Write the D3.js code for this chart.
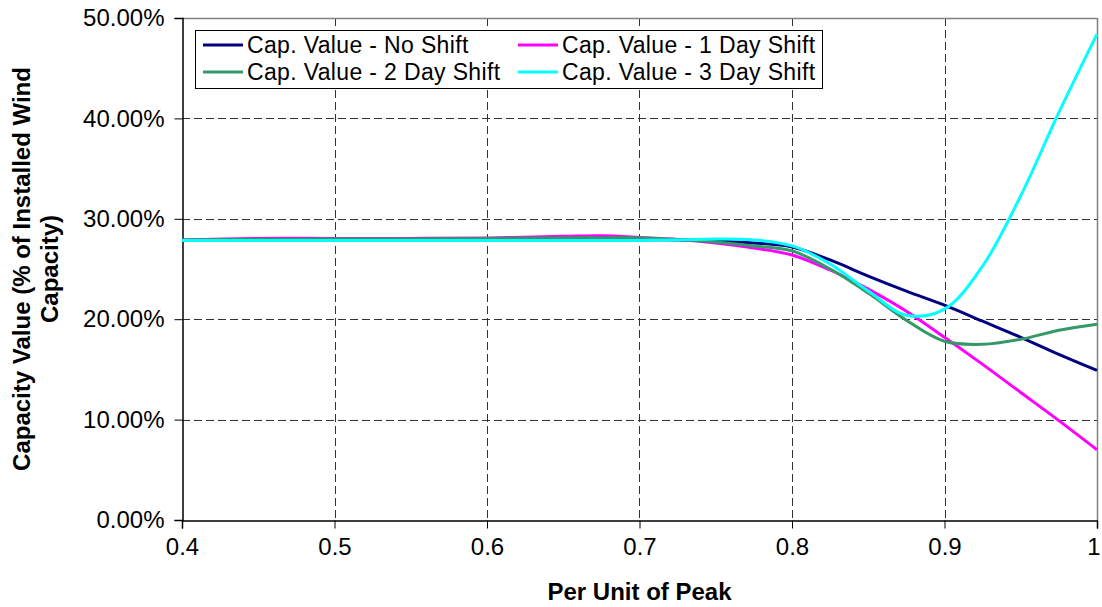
<!DOCTYPE html>
<html>
<head>
<meta charset="utf-8">
<script src="https://cdn.jsdelivr.net/npm/d3@7"></script>
<style>
  body { margin: 0; background: #fff; }
  svg { display: block; font-family: "Liberation Sans", Arial, sans-serif; }
</style>
</head>
<body>
<svg id="chart" width="1102" height="607"></svg>
<script>
const xValues = [0.4, 0.45, 0.5, 0.55, 0.6, 0.65, 0.675, 0.7, 0.725, 0.75, 0.775, 0.8, 0.825, 0.85, 0.875, 0.9, 0.925, 0.95, 0.975, 1.0];
const noShift  = [27.85, 27.9, 27.9, 27.9, 27.9, 27.9, 27.9, 27.9, 27.9, 27.8, 27.6, 27.2, 25.9, 24.3, 22.8, 21.4, 19.8, 18.2, 16.5, 14.9];
const oneDay   = [27.9, 28.05, 28.05, 28.05, 28.1, 28.25, 28.3, 28.15, 27.95, 27.6, 27.1, 26.4, 24.9, 23.0, 20.8, 18.2, 15.5, 12.7, 9.9, 7.0];
const twoDay   = [27.9, 27.95, 28.0, 28.0, 28.05, 28.1, 28.1, 28.1, 27.95, 27.7, 27.3, 26.8, 25.0, 22.6, 19.9, 17.8, 17.5, 18.0, 18.9, 19.5];
const threeDay = [27.85, 27.85, 27.85, 27.85, 27.85, 27.85, 27.85, 27.85, 27.9, 28.0, 27.9, 27.3, 25.5, 22.8, 20.4, 21.0, 25.3, 32.3, 40.6, 48.4];
const seriesNames = ["Cap. Value - No Shift", "Cap. Value - 1 Day Shift", "Cap. Value - 2 Day Shift", "Cap. Value - 3 Day Shift"];
const seriesColors = ["#000080", "#FF00FF", "#339966", "#00FFFF"];
const xTicks = [0.4, 0.5, 0.6, 0.7, 0.8, 0.9, 1.0];
const yTicks = [0, 10, 20, 30, 40, 50];
const xTitle = "Per Unit of Peak";
const yTitleLines = ["Capacity Value (% of Installed Wind", "Capacity)"];

const seriesData = [noShift, oneDay, twoDay, threeDay];

const svg = d3.select("#chart");
const pL = 182, pR = 1097, pT = 18, pB = 520;
const x = d3.scaleLinear().domain([0.4, 1.0]).range([pL, pR]);
const y = d3.scaleLinear().domain([0, 50]).range([pB, pT]);

const fs = 24;

// gridlines
const g = svg.append("g");
g.selectAll("line.hg").data(yTicks.filter(d => d > 0 && d < 50)).join("line")
  .attr("x1", pL).attr("x2", pR)
  .attr("y1", d => Math.round(y(d)) + 0.5).attr("y2", d => Math.round(y(d)) + 0.5)
  .attr("stroke", "#333").attr("stroke-width", 1).attr("stroke-dasharray", "8,4");
g.selectAll("line.vg").data(xTicks.filter(d => d > 0.4 && d < 1.0)).join("line")
  .attr("y1", pT).attr("y2", pB)
  .attr("x1", d => Math.round(x(d)) + 0.5).attr("x2", d => Math.round(x(d)) + 0.5)
  .attr("stroke", "#333").attr("stroke-width", 1).attr("stroke-dasharray", "8,4");

// plot border top/right
svg.append("line").attr("x1", pL).attr("x2", pR + 0.5).attr("y1", pT + 0.5).attr("y2", pT + 0.5).attr("stroke", "#808080").attr("stroke-width", 1.5);
svg.append("line").attr("x1", pR + 0.5).attr("x2", pR + 0.5).attr("y1", pT).attr("y2", pB).attr("stroke", "#808080").attr("stroke-width", 1.5);

// axes
const xAxis = d3.axisBottom(x).tickValues(xTicks).tickSize(8).tickPadding(9)
  .tickFormat(d => d === 1 ? "1" : d3.format(".1f")(d));
const xg = svg.append("g").attr("transform", `translate(0,${pB + 0.5})`).call(xAxis);
const yAxis = d3.axisLeft(y).tickValues(yTicks).tickSize(8).tickPadding(10)
  .tickFormat(d => d3.format(".2f")(d) + "%");
const yg = svg.append("g").attr("transform", `translate(${pL + 0.5},0)`).call(yAxis);
[xg, yg].forEach(a => {
  a.select(".domain").attr("stroke", "#000").attr("stroke-width", 1.5);
  a.selectAll(".tick line").attr("stroke", "#000");
  a.selectAll(".tick text").attr("font-size", fs).attr("fill", "#000").attr("font-family", "Liberation Sans, Arial, sans-serif");
});
// keep the last x label inside the picture, as in the reference
xg.selectAll(".tick text").filter(d => d === 1).attr("text-anchor", "end").attr("dx", 3);

// lines
const line = d3.line().x((d, i) => x(xValues[i])).y(d => y(d)).curve(d3.curveCatmullRom.alpha(0.5));
seriesData.forEach((s, i) => {
  svg.append("path").datum(s).attr("d", line)
    .attr("fill", "none").attr("stroke", seriesColors[i]).attr("stroke-width", 3)
    .attr("stroke-linejoin", "round");
});

// axis titles
svg.append("text").attr("x", (pL + pR) / 2).attr("y", 600)
  .attr("text-anchor", "middle").attr("font-size", fs).attr("font-weight", "bold").text(xTitle);
const yt = svg.append("text").attr("transform", `translate(0,${(pT + pB) / 2}) rotate(-90)`)
  .attr("text-anchor", "middle").attr("font-size", fs).attr("font-weight", "bold");
yTitleLines.forEach((t, i) => {
  yt.append("tspan").attr("x", 0).attr("y", 30 + i * 28).text(t);
});

// legend
const lg = svg.append("g");
lg.append("rect").attr("x", 195.5).attr("y", 30.5).attr("width", 627).attr("height", 58)
  .attr("fill", "#fff").attr("stroke", "#000").attr("stroke-width", 1);
const cols = [203, 518], rows = [45, 72];
seriesNames.forEach((n, i) => {
  const cx = cols[i % 2], cy = rows[Math.floor(i / 2)];
  lg.append("line").attr("x1", cx).attr("x2", cx + 40).attr("y1", cy).attr("y2", cy)
    .attr("stroke", seriesColors[i]).attr("stroke-width", 3);
  lg.append("text").attr("x", cx + 44).attr("y", cy).attr("dy", "0.35em")
    .attr("font-size", 23).attr("letter-spacing", 0.35).attr("fill", "#000").text(n);
});
</script>
</body>
</html>
